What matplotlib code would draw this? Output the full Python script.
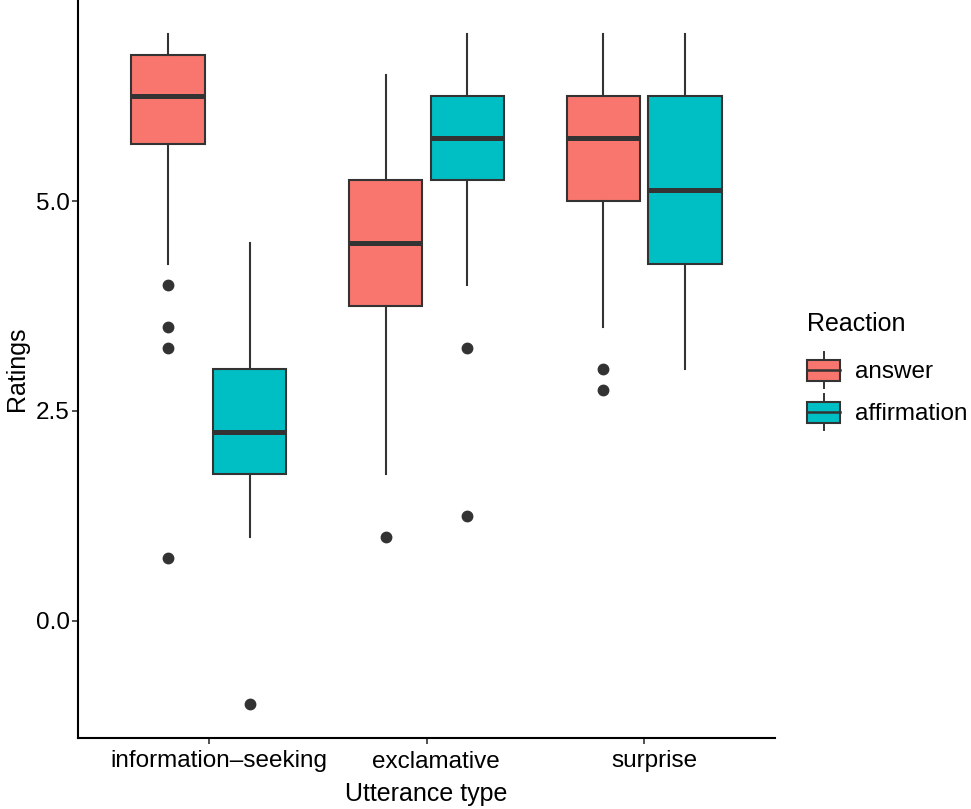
import matplotlib
matplotlib.use("Agg")
from matplotlib import pyplot as plt
from matplotlib.legend_handler import HandlerBase
from matplotlib.patches import Rectangle
from matplotlib.lines import Line2D
from matplotlib.transforms import ScaledTranslation

plt.rcParams['font.family'] = ['Liberation Sans', 'DejaVu Sans']

utterance_types = ["information\u2013seeking", "exclamative", "surprise"]
reactions = ["answer", "affirmation"]
colors = {"answer": "#F8766D", "affirmation": "#00BFC4"}

# box stats per reaction, one entry per utterance type
answer_q1 = [5.68, 3.75, 5.0]
answer_med = [6.25, 4.5, 5.75]
answer_q3 = [6.75, 5.25, 6.25]
answer_lo = [4.25, 1.75, 3.5]
answer_hi = [7.0, 6.5, 7.0]
answer_out = [[4.0, 3.5, 3.25, 0.75], [1.0], [3.0, 2.75]]

affirm_q1 = [1.75, 5.25, 4.25]
affirm_med = [2.25, 5.75, 5.13]
affirm_q3 = [3.0, 6.25, 6.25]
affirm_lo = [1.0, 4.0, 3.0]
affirm_hi = [4.5, 7.0, 7.0]
affirm_out = [[-1.0], [3.25, 1.25], []]

stats = {
    "answer": (answer_q1, answer_med, answer_q3, answer_lo, answer_hi, answer_out),
    "affirmation": (affirm_q1, affirm_med, affirm_q3, affirm_lo, affirm_hi, affirm_out),
}

line_col = "#333333"


class BoxHandler(HandlerBase):
    # legend key drawn like ggplot's boxplot key (sizes in points)
    def create_artists(self, legend, orig_handle, xdescent, ydescent,
                       width, height, fontsize, trans):
        fc = orig_handle.get_facecolor()
        bw, bh, wh = 23.8, 15.1, 26.0
        cx = -xdescent + width / 2
        cy = -ydescent + height / 2
        rect = Rectangle((cx - bw / 2, cy - bh / 2), bw, bh, facecolor=fc,
                         edgecolor=line_col, lw=1.5, transform=trans)
        med = Line2D([cx - bw / 2, cx + bw / 2], [cy, cy], color=line_col, lw=1.8,
                     transform=trans)
        w1 = Line2D([cx, cx], [cy - wh / 2, cy - bh / 2], color=line_col, lw=1.4,
                    transform=trans)
        w2 = Line2D([cx, cx], [cy + bh / 2, cy + wh / 2], color=line_col, lw=1.4,
                    transform=trans)
        return [w1, w2, rect, med]


fig = plt.figure(figsize=(9.71, 8.09), dpi=100)
ax = fig.add_axes([78 / 971, 1 - 738 / 809, (775 - 78) / 971, 738 / 809])

offsets = {"answer": -0.1875, "affirmation": 0.1875}
handles = []
for r in reactions:
    q1, med, q3, lo, hi, out = stats[r]
    bstats = []
    for i in range(len(utterance_types)):
        bstats.append(dict(q1=q1[i], med=med[i], q3=q3[i], whislo=lo[i], whishi=hi[i],
                           fliers=out[i]))
    pos = [i + 1 + offsets[r] for i in range(len(utterance_types))]
    ax.bxp(bstats, positions=pos, widths=0.3375, patch_artist=True, showcaps=False,
           boxprops=dict(facecolor=colors[r], edgecolor=line_col, lw=1.5),
           medianprops=dict(color=line_col, lw=3.6, solid_capstyle='butt'),
           whiskerprops=dict(color=line_col, lw=1.5),
           flierprops=dict(marker='o', markerfacecolor=line_col, markeredgecolor=line_col,
                           markersize=7.5))
    handles.append(Rectangle((0, 0), 1, 1, facecolor=colors[r]))

ax.set_xlim(0.4, 3.6)
ax.set_ylim(-1.4, 7.4)
ax.set_xticks([1, 2, 3])
ax.set_xticklabels(utterance_types)
ax.set_yticks([0, 2.5, 5.0])
ax.set_yticklabels(["0.0", "2.5", "5.0"])
ax.tick_params(labelsize=17.5, length=4, width=1.2, color=line_col, labelcolor='black')
ax.tick_params(axis='x', pad=5)
ax.tick_params(axis='y', pad=2)
# labels in the original sit a little right of their ticks
for lab in ax.get_xticklabels():
    lab.set_transform(lab.get_transform() + ScaledTranslation(7 / 72, 0, fig.dpi_scale_trans))
for s in ["top", "right"]:
    ax.spines[s].set_visible(False)
for s in ["left", "bottom"]:
    ax.spines[s].set_linewidth(1.5)
    ax.spines[s].set_color("black")
ax.set_xlabel("Utterance type", fontsize=18, labelpad=7)
ax.set_ylabel("Ratings", fontsize=18, labelpad=5)

leg = fig.legend(handles, reactions, handler_map={Rectangle: BoxHandler()},
                 title="Reaction", loc="upper left", bbox_to_anchor=(795 / 971, 1 - 300 / 809),
                 frameon=False, fontsize=17.5, title_fontsize=18, handlelength=1.36,
                 handleheight=1.45, labelspacing=0.55, handletextpad=0.6, borderpad=0,
                 alignment='left')
leg._legend_box.sep = 14

fig.savefig("out.png", dpi=100)
